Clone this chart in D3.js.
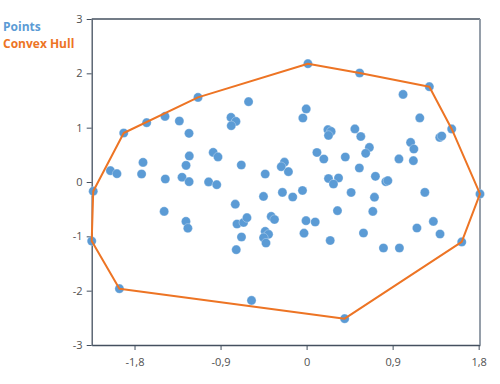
<!DOCTYPE html>
<html>
<head>
<meta charset="utf-8">
<script src="https://cdn.jsdelivr.net/npm/d3@7/dist/d3.min.js"></script>
<style>
  html, body { margin: 0; padding: 0; background: #fff; }
  svg { display: block; }
</style>
</head>
<body>
<svg id="chart" width="500" height="384"></svg>
<script>
// ---- data ----
const xValues = [
  0.014, 0.555, 1.284, 1.009, -1.136, -0.607, -0.004, -1.481, -1.673, -1.331,
  -0.791, -0.739, -0.788, -0.039, 1.184, -1.913, -1.230, 0.223, 0.257, 0.229,
  0.505, 0.567, 1.518, 1.393, 1.414, 1.088, 1.122, 0.657, 0.618, 0.108,
  0.180, 0.405, 0.966, 1.117, 0.552, 0.720, 0.829, 0.850, 0.229, 0.334,
  0.281, -0.232, -0.265, -0.190, -0.433, -0.683, -0.977, -0.927, -1.227, -1.711,
  -1.261, -2.052, -1.984, -1.726, -1.478, -1.303, -1.229, -1.025, -0.940, -2.232,
  -1.490, -1.262, -1.242, -2.248, -1.958, -0.746, -0.451, -0.253, -0.145, -0.043,
  0.466, 0.710, 1.237, 1.814, 0.323, 0.693, -0.728, -0.659, -0.624, -0.370,
  -0.336, -0.006, 0.090, -0.681, -0.433, -0.398, -0.450, -0.425, -0.027, 0.247,
  -0.736, 0.595, 1.154, 1.326, 1.396, 1.623, 0.804, 0.971, -0.576, 0.398
];
const yValues = [
  2.177, 2.006, 1.754, 1.612, 1.557, 1.478, 1.345, 1.207, 1.091, 1.123,
  1.189, 1.115, 1.036, 1.178, 1.180, 0.902, 0.895, 0.963, 0.931, 0.858,
  0.977, 0.837, 0.976, 0.821, 0.847, 0.729, 0.607, 0.637, 0.528, 0.543,
  0.423, 0.460, 0.425, 0.392, 0.258, 0.105, 0.006, 0.024, 0.064, 0.074,
  -0.037, 0.364, 0.282, 0.190, 0.147, 0.313, 0.545, 0.462, 0.479, 0.361,
  0.306, 0.208, 0.153, 0.147, 0.055, 0.087, 0.006, 0.002, -0.050, -0.169,
  -0.541, -0.725, -0.850, -1.088, -1.964, -0.409, -0.265, -0.191, -0.276, -0.156,
  -0.193, -0.280, -0.191, -0.219, -0.528, -0.541, -0.773, -0.745, -0.657, -0.633,
  -0.690, -0.712, -0.736, -1.012, -0.909, -0.963, -1.025, -1.123, -0.942, -1.077,
  -1.246, -0.939, -0.847, -0.725, -0.957, -1.103, -1.215, -1.215, -2.179, -2.516
];
const xTickValues = [-1.8, -0.9, 0, 0.9, 1.8];
const yTickValues = [-3, -2, -1, 0, 1, 2, 3];
const yDomain = [-3, 3];
const seriesNames = ["Points", "Convex Hull"];
const seriesColors = ["#5b9bd5", "#ed7424"];

// ---- layout ----
const svg = d3.select("#chart");
const margin = { left: 91.7, right: 20, top: 19, bottom: 39 };
const W = 500, H = 384;

const points = xValues.map((x, i) => [x, yValues[i]]);

const x = d3.scaleLinear()
  .domain(d3.extent(xValues))
  .range([margin.left, W - margin.right]);
const y = d3.scaleLinear()
  .domain(yDomain)
  .range([H - margin.bottom, margin.top]);

const fmt = v => d3.format("")(Math.round(v * 10) / 10).replace(".", ",").replace("−", "-");

const fontFam = "'Open Sans', 'Noto Sans', sans-serif";

// axes
const xAxis = d3.axisBottom(x).tickValues(xTickValues).tickSize(5).tickSizeOuter(0).tickFormat(fmt);
const yAxis = d3.axisLeft(y).tickValues(yTickValues).tickSize(5).tickSizeOuter(0).tickFormat(fmt);

const gx = svg.append("g")
  .attr("transform", `translate(0,${y(yDomain[0])})`)
  .call(xAxis);
const gy = svg.append("g")
  .attr("transform", `translate(${x.range()[0]},0)`)
  .call(yAxis);

[gx, gy].forEach(g => {
  g.select(".domain").attr("stroke", "#44505f").attr("stroke-width", 1.3);
  g.selectAll(".tick line").attr("stroke", "#44505f");
  g.selectAll(".tick text")
    .attr("fill", "#505050")
    .style("font-family", fontFam)
    .style("font-size", "11px");
});
gx.selectAll(".tick text").attr("dy", "1.2em");
gy.selectAll(".tick text").attr("dx", "-0.1em");

// top and right frame lines
svg.append("line")
  .attr("x1", x.range()[0]).attr("x2", x.range()[1])
  .attr("y1", y(yDomain[1])).attr("y2", y(yDomain[1]))
  .attr("stroke", "#44505f").attr("stroke-width", 1.3);
svg.append("line")
  .attr("x1", x.range()[1]).attr("x2", x.range()[1])
  .attr("y1", y(yDomain[1])).attr("y2", y(yDomain[0]))
  .attr("stroke", "#8a94a0").attr("stroke-width", 1.8);

// points
svg.append("g")
  .selectAll("circle")
  .data(points)
  .join("circle")
  .attr("cx", d => x(d[0]))
  .attr("cy", d => y(d[1]))
  .attr("r", 4.6)
  .attr("fill", seriesColors[0])
  .attr("stroke", "#ffffff")
  .attr("stroke-opacity", 0.5)
  .attr("stroke-width", 0.6);

// convex hull
const hull = d3.polygonHull(points);
const line = d3.line()
  .x(d => x(d[0]))
  .y(d => y(d[1]))
  .curve(d3.curveLinearClosed);
svg.append("path")
  .attr("d", line(hull))
  .attr("fill", "none")
  .attr("stroke", seriesColors[1])
  .attr("stroke-width", 2)
  .attr("stroke-linejoin", "round");

// legend
const legend = svg.append("g");
seriesNames.forEach((name, i) => {
  legend.append("text")
    .attr("x", 3)
    .attr("y", 31 + i * 17)
    .attr("fill", seriesColors[i])
    .style("font-family", fontFam)
    .style("font-weight", "bold")
    .style("font-size", "12px")
    .text(name);
});
</script>
</body>
</html>
